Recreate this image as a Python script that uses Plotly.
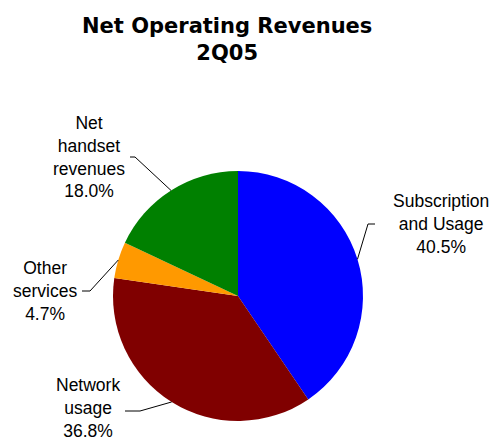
import math
import plotly.graph_objects as go

categories = ["Subscription<br>and Usage", "Network<br>usage", "Other<br>services", "Net<br>handset<br>revenues"]
values = [40.5, 36.8, 4.7, 18.0]
colors = ["#0000FF", "#800000", "#FF9900", "#008000"]

OFF = 8  # page body margin in the browser
W, H = 497 - OFF, 441 - OFF
CX, CY, R = 238, 296, 125

def px(x):
    return (x - OFF) / W

def py(y):
    return 1 - (y - OFF) / H

fig = go.Figure(go.Pie(
    labels=categories, values=values, sort=False, direction="clockwise", rotation=0,
    marker=dict(colors=colors, line=dict(width=0)), textinfo="none", hoverinfo="label+percent",
    domain=dict(x=[px(CX - R), px(CX + R)], y=[py(CY + R), py(CY - R)]),
    showlegend=False,
))

# label layout: elbow point, line end, text center
label_layout = [
    dict(elbow=(368, 224), end=(375, 224), tx=441, ty=224),
    dict(elbow=(140, 411), end=(125, 411), tx=88, ty=408),
    dict(elbow=(90, 291), end=(82, 291), tx=45, ty=291),
    dict(elbow=(135, 157), end=(130, 157), tx=89, ty=157),
]

total = sum(values)
cum = 0
shapes = []
annotations = []
font = dict(family="Liberation Sans, Arial", size=17.5, color="black")
for cat, v, lay in zip(categories, values, label_layout):
    mid = (cum + v / 2) / total * 2 * math.pi
    cum += v
    ax = CX + R * math.sin(mid)
    ay = CY - R * math.cos(mid)
    ex, ey = lay["elbow"]
    fx, fy = lay["end"]
    shapes.append(dict(type="path", xref="paper", yref="paper",
                       path=f"M {px(ax)} {py(ay)} L {px(ex)} {py(ey)} L {px(fx)} {py(fy)}",
                       line=dict(color="black", width=1)))
    annotations.append(dict(x=px(lay["tx"]), y=py(lay["ty"]), xref="paper", yref="paper",
                            text=f"{cat}<br>{v:.1f}%", showarrow=False, xanchor="center",
                            yanchor="middle", align="center", font=font))

annotations.append(dict(x=px(227), y=py(40), xref="paper", yref="paper",
                        text="<b>Net Operating Revenues</b><br><b>2Q05</b>", showarrow=False,
                        xanchor="center", yanchor="middle", align="center",
                        font=dict(family="DejaVu Sans, Arial", size=21, color="black")))

fig.update_layout(width=W, height=H, margin=dict(l=0, r=0, t=0, b=0),
                  paper_bgcolor="white", plot_bgcolor="white",
                  shapes=shapes, annotations=annotations)
fig.write_html("out.html")
